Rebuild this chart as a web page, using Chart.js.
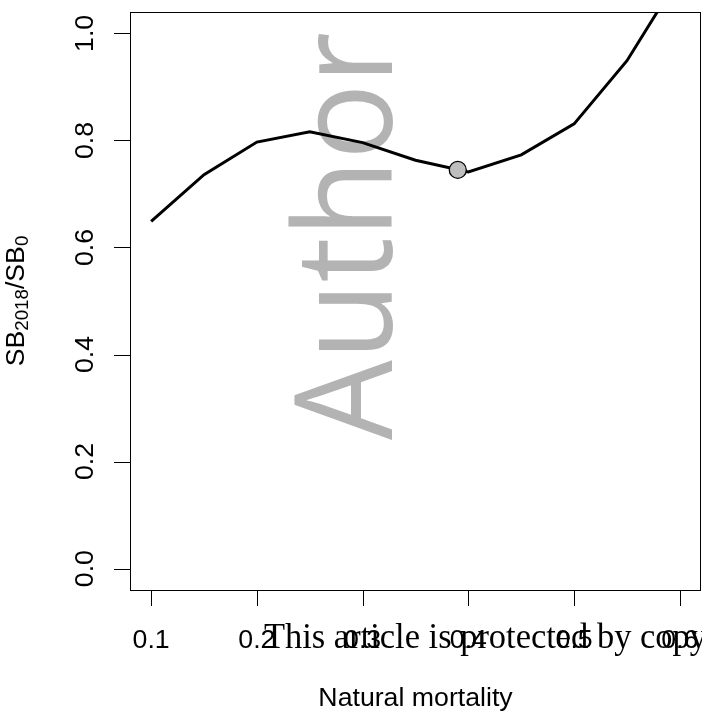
<!DOCTYPE html>
<html lang="en">
<head>
  <meta charset="UTF-8" />
  <title>Natural mortality sensitivity</title>
  <script src="https://cdn.jsdelivr.net/npm/chart.js"></script>
  <style>
    html, body { margin: 0; padding: 0; background: #fff; }
    canvas { display: block; }
  </style>
</head>
<body>
  <canvas id="mChart" width="702" height="718"></canvas>

  <script>
    // natural mortality runs and resulting depletion
    const mortality = [0.10, 0.15, 0.20, 0.25, 0.30, 0.35, 0.40, 0.45, 0.50, 0.55, 0.60];
    const depletion = [0.649, 0.736, 0.797, 0.816, 0.796, 0.763, 0.741, 0.773, 0.831, 0.949, 1.108];

    // base case
    const baseM = [0.39];
    const baseDepletion = [0.745];

    const xTicks = [0.1, 0.2, 0.3, 0.4, 0.5, 0.6];
    const yTicks = [0.0, 0.2, 0.4, 0.6, 0.8, 1.0];

    const sans = '"Liberation Sans", Arial, sans-serif';
    const labelSize = 26.7;

    // R style frame, ticks and labels, drawn from the chart scales
    const rAxes = {
      id: 'rAxes',
      beforeDatasetsDraw(chart) {
        const ctx = chart.ctx;
        ctx.save();
        ctx.translate(392, 440);
        ctx.rotate(-Math.PI / 2);
        ctx.scale(0.93, 1);
        ctx.font = '136px "Open Sans"';
        ctx.fillStyle = '#b3b3b3';
        ctx.textAlign = 'left';
        ctx.textBaseline = 'alphabetic';
        ctx.fillText('Author', 0, 0);
        ctx.restore();
      },
      afterDraw(chart) {
        const ctx = chart.ctx;
        const area = chart.chartArea;
        const xs = chart.scales.x;
        const ys = chart.scales.y;
        const tick = 16;

        ctx.save();
        ctx.strokeStyle = '#000';
        ctx.lineWidth = 1;
        ctx.strokeRect(area.left + 0.5, area.top + 0.5,
          area.right - area.left - 1, area.bottom - area.top);

        ctx.beginPath();
        xTicks.forEach(v => {
          const px = Math.round(xs.getPixelForValue(v)) + 0.5;
          ctx.moveTo(px, area.bottom);
          ctx.lineTo(px, area.bottom + tick);
        });
        yTicks.forEach(v => {
          const py = Math.round(ys.getPixelForValue(v)) + 0.5;
          ctx.moveTo(area.left, py);
          ctx.lineTo(area.left - tick, py);
        });
        ctx.stroke();

        ctx.fillStyle = '#000';
        ctx.font = labelSize + 'px ' + sans;
        ctx.textAlign = 'center';
        ctx.textBaseline = 'alphabetic';
        xTicks.forEach(v => {
          ctx.fillText(v.toFixed(1), xs.getPixelForValue(v), 648);
        });
        yTicks.forEach(v => {
          ctx.save();
          ctx.translate(93, ys.getPixelForValue(v));
          ctx.rotate(-Math.PI / 2);
          ctx.fillText(v.toFixed(1), 0, 0);
          ctx.restore();
        });

        ctx.fillText('Natural mortality', (area.left + area.right) / 2, 706);

        // SB2018/SB0 with subscripts
        const parts = [
          ['SB', false], ['2018', true], ['/', false], ['SB', false], ['0', true]
        ];
        const subSize = labelSize * 0.7;
        const widths = parts.map(([t, sub]) => {
          ctx.font = (sub ? subSize : labelSize) + 'px ' + sans;
          return ctx.measureText(t).width;
        });
        const total = widths.reduce((a, b) => a + b, 0);
        ctx.save();
        ctx.translate(24, (area.top + area.bottom) / 2);
        ctx.rotate(-Math.PI / 2);
        ctx.textAlign = 'left';
        let cx = -total / 2;
        parts.forEach(([t, sub], i) => {
          ctx.font = (sub ? subSize : labelSize) + 'px ' + sans;
          ctx.fillText(t, cx, sub ? 4 : 0);
          cx += widths[i];
        });
        ctx.restore();

        // footer line
        ctx.save();
        ctx.translate(264, 648);
        ctx.scale(0.944, 1);
        ctx.font = '36.5px "Liberation Serif", "Times New Roman", serif';
        ctx.textAlign = 'left';
        ctx.fillText('This article is protected by copyright. All rights reserved', 0, 0);
        ctx.restore();

        ctx.restore();
      }
    };

    const ctx = document.getElementById('mChart').getContext('2d');
    new Chart(ctx, {
      type: 'scatter',
      data: {
        datasets: [
          {
            label: 'Base case',
            data: baseM.map((m, i) => ({ x: m, y: baseDepletion[i] })),
            backgroundColor: '#bebebe',
            borderColor: '#000',
            pointRadius: 8.5,
            pointBorderWidth: 1.3,
            order: 0
          },
          {
            label: 'SB2018/SB0',
            data: mortality.map((m, i) => ({ x: m, y: depletion[i] })),
            showLine: true,
            borderColor: '#000',
            borderWidth: 3,
            tension: 0,
            pointRadius: 0,
            clip: 0,
            order: 1
          }
        ]
      },
      options: {
        responsive: false,
        animation: false,
        events: [],
        layout: {
          autoPadding: false,
          padding: { left: 130, top: 12, right: 1, bottom: 128 }
        },
        scales: {
          x: { type: 'linear', min: 0.08, max: 0.62, display: false },
          y: { type: 'linear', min: -0.04, max: 1.04, display: false }
        },
        plugins: {
          legend: { display: false },
          tooltip: { enabled: false }
        }
      },
      plugins: [rAxes]
    });
  </script>
</body>
</html>
